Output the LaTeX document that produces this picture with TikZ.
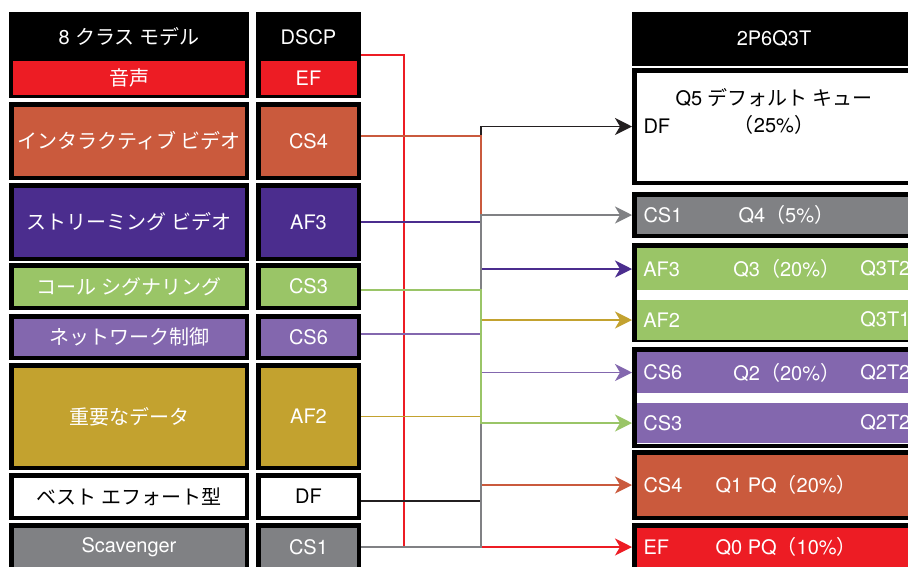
\documentclass[tikz,border=0pt]{standalone}
\usepackage{fontspec}
\setmainfont{TeX Gyre Heros}
\newfontfamily\jp{Noto Sans CJK JP}
\usetikzlibrary{arrows.meta, calc}
\definecolor{qred}{HTML}{ED1C24}
\definecolor{qorange}{HTML}{CA5A3D}
\definecolor{qpurple}{HTML}{4B2D8E}
\definecolor{qgreen}{HTML}{9AC567}
\definecolor{qlav}{HTML}{8367AE}
\definecolor{qgold}{HTML}{C3A22F}
\definecolor{qgray}{HTML}{808184}
\definecolor{qblack}{HTML}{231F20}
\definecolor{qdark}{HTML}{3A3A3C}

\begin{document}
\begin{tikzpicture}[
      x=1pt, y=-1pt,
      every node/.style={font=\fontsize{20}{27}\selectfont, text=white},
      cbox/.style={draw=black, line width=4.5pt, fill=#1, inner sep=0pt},
      clsbox/.style={cbox=#1, minimum width=235.5pt},
      dscpbox/.style={cbox=#1, minimum width=100.5pt},
      qbox/.style={cbox=#1, minimum width=279.5pt},
      bar/.style={fill=#1, minimum width=274pt, inner sep=0pt},
      qlink/.style={draw=#1, line width=1.6pt,
                    -{Stealth[length=17pt, width=17pt, inset=5pt]}},
    ]
    \useasboundingbox (0,0) rectangle (908,566);
    \clip (0,0) rectangle (908,566);

    \node[cbox=black, minimum width=235.5pt, minimum height=81.5pt] (hdrcls) at (129,55) {};
    \node (hdrclstxt) at (129,37) {8 {\jp クラス モデル}};
    \node[fill=qred, minimum width=232pt, minimum height=34pt, inner sep=0pt] (voice) at (129,78) {\jp 音声};
    \node[cbox=black, minimum width=100.5pt, minimum height=81.5pt] (hdrdscp) at (308.5,55) {};
    \node (hdrdscptxt) at (308.5,37) {DSCP};
    \node[fill=qred, minimum width=96pt, minimum height=34pt, inner sep=0pt] (ef) at (308.5,78) {EF};

    \node[clsbox=qorange, minimum height=73.5pt]  (ivideo)  at (129,141)   {\jp インタラクティブ ビデオ};
    \node[dscpbox=qorange, minimum height=73.5pt] (cs4)     at (308.5,141) {CS4};
    \node[clsbox=qpurple, minimum height=73.5pt]  (svideo)  at (129,222)   {\jp ストリーミング ビデオ};
    \node[dscpbox=qpurple, minimum height=73.5pt] (af3)     at (308.5,222) {AF3};
    \node[clsbox=qgreen, minimum height=42.5pt]   (callsig) at (129,286.5) {\jp コール シグナリング};
    \node[dscpbox=qgreen, minimum height=42.5pt]  (cs3)     at (308.5,286.5) {CS3};
    \node[clsbox=qlav, minimum height=41.5pt]     (netctl)  at (129,337)   {\jp ネットワーク制御};
    \node[dscpbox=qlav, minimum height=41.5pt]    (cs6)     at (308.5,337) {CS6};
    \node[clsbox=qgold, minimum height=102.5pt]   (data)    at (129,416.5) {\jp 重要なデータ};
    \node[dscpbox=qgold, minimum height=102.5pt]  (af2)     at (308.5,416.5) {AF2};
    \node[clsbox=white, text=black, minimum height=42.5pt]  (besteff) at (129,496.5) {\jp ベスト エフォート型};
    \node[dscpbox=white, text=black, minimum height=42.5pt] (df)      at (308.5,496.5) {DF};
    \node[clsbox=qgray, minimum height=43.5pt]    (scav)    at (129,547)   {Scavenger};
    \node[dscpbox=qgray, minimum height=43.5pt]   (cs1)     at (308.5,547) {CS1};

    \node[qbox=black, minimum height=49.5pt] (hdrq) at (774,39) {2P6Q3T};
    \node[qbox=white, minimum height=112.5pt] (q5) at (774,126.5) {};
    \node[text=black, align=center] (q5txt) at (774,111) {Q5 {\jp デフォルト キュー}\\{\jp （}25\%{\jp ）}};
    \node[text=black, anchor=west] (q5df) at ([xshift=8pt]q5.west) {DF};

    \node[qbox=qgray, minimum height=41.5pt] (cs1q) at (774,215) {};
    \node[anchor=west] (cs1qa) at ([xshift=8pt]cs1q.west) {CS1};
    \node[anchor=west] (cs1qb) at ([xshift=103pt]cs1q.west) {Q4{\jp （}5\%{\jp ）}};

    \node[qbox=white, minimum height=94.5pt] (q3grp) at (774,292.5) {};
    \node[bar=qgreen, minimum height=42pt] (af3bar) at (774,269) {};
    \node[bar=qgreen, minimum height=40pt] (af2bar) at (774,320) {};
    \node[anchor=west] (af3qa) at ([xshift=3pt]af3bar.west) {AF3};
    \node[anchor=west] (af3qb) at ([xshift=93pt]af3bar.west) {Q3{\jp （}20\%{\jp ）}};
    \node[anchor=west] (af3qc) at ([xshift=220pt]af3bar.west) {Q3T2};
    \node[anchor=west] (af2qa) at ([xshift=3pt]af2bar.west) {AF2};
    \node[anchor=west] (af2qc) at ([xshift=220pt]af2bar.west) {Q3T1};

    \node[qbox=white, minimum height=96.5pt] (q2grp) at (774,397.5) {};
    \node[bar=qlav, minimum height=41pt] (cs6bar) at (774,372.5) {};
    \node[bar=qlav, minimum height=40pt] (cs3bar) at (774,423) {};
    \node[anchor=west] (cs6qa) at ([xshift=3pt]cs6bar.west) {CS6};
    \node[anchor=west] (cs6qb) at ([xshift=93pt]cs6bar.west) {Q2{\jp （}20\%{\jp ）}};
    \node[anchor=west] (cs6qc) at ([xshift=220pt]cs6bar.west) {Q2T2};
    \node[anchor=west] (cs3qa) at ([xshift=3pt]cs3bar.west) {CS3};
    \node[anchor=west] (cs3qc) at ([xshift=220pt]cs3bar.west) {Q2T2};

    \node[qbox=qorange, minimum height=65.5pt] (q1) at (774,485) {};
    \node[anchor=west] (q1a) at ([xshift=8pt]q1.west) {CS4};
    \node[anchor=west] (q1b) at ([xshift=80pt]q1.west) {Q1 PQ{\jp （}20\%{\jp ）}};
    \node[qbox=qred, minimum height=43.5pt] (q0) at (774,547) {};
    \node[anchor=west] (q0a) at ([xshift=8pt]q0.west) {EF};
    \node[anchor=west] (q0b) at ([xshift=80pt]q0.west) {Q0 PQ{\jp （}10\%{\jp ）}};

    \coordinate (rbus) at (404,0);
    \coordinate (bus) at (481,0);

    \draw[qlink=qred] (hdrdscp.east) -| (rbus |- q0.west) -- (q0.west);
    \draw[qlink=qblack] ([yshift=-4.5pt]df.east) -| (bus |- q5.west) -- (q5.west);
    \draw[qlink=qorange] ([yshift=5pt]cs4.east) -| (bus |- q1.west) -- (q1.west);
    \draw[qlink=qpurple] (af3.east) -| (bus |- af3bar.west) -- (af3bar.west -| q3grp.west);
    \draw[qlink=qlav] ([yshift=3pt]cs6.east) -| (bus |- cs6bar.west) -- (cs6bar.west -| q2grp.west);
    \draw[qlink=qgold] (af2.east) -| (bus |- af2bar.west) -- (af2bar.west -| q3grp.west);
    \draw[qlink=qgray] (cs1.east) -| (bus |- cs1q.west) -- (cs1q.west);
    \draw[qlink=qgreen] ([yshift=-3.5pt]cs3.east) -| (bus |- cs3bar.west) -- (cs3bar.west -| q2grp.west);
  \end{tikzpicture}
\end{document}
